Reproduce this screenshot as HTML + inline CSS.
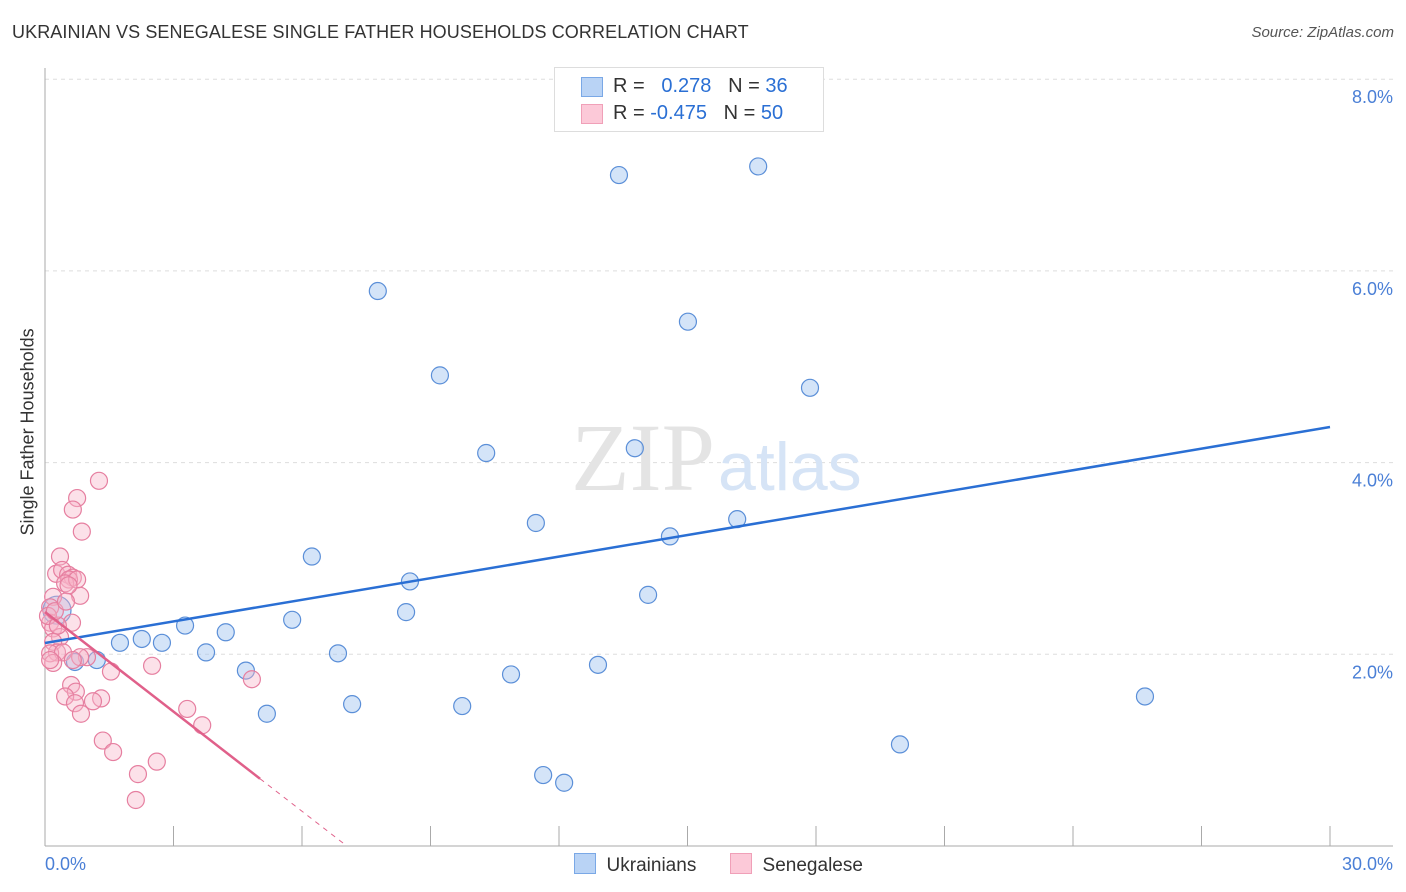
<!DOCTYPE html>
<html><head><meta charset="utf-8">
<style>
body{margin:0;background:#fff;font-family:"Liberation Sans",sans-serif;}
#wrap{position:relative;width:1406px;height:892px;overflow:hidden;}
.t{position:absolute;white-space:nowrap;}
</style></head>
<body>
<div id="wrap">
<div class="t" style="left:12px;top:22px;font-size:18px;color:#333;letter-spacing:0.1px">UKRAINIAN VS SENEGALESE SINGLE FATHER HOUSEHOLDS CORRELATION CHART</div>
<div class="t" style="right:12px;top:24px;font-size:15px;color:#555;font-style:italic">Source: ZipAtlas.com</div>
<div class="t" style="left:-52px;top:445px;font-size:18px;color:#333;transform:rotate(-90deg);width:160px;text-align:center">Single Father Households</div>
<svg id="plot" width="1406" height="892" style="position:absolute;left:0;top:0"></svg>
</div>
<script>
const ukrX=[0.28,0.70,1.21,1.75,2.26,2.73,3.27,3.76,4.22,4.69,5.18,5.77,6.23,6.84,7.17,7.77,8.43,8.52,9.22,9.74,10.30,10.88,11.46,11.63,12.12,12.91,13.40,13.77,14.08,14.59,15.01,16.16,16.65,17.86,19.96,25.68];
const ukrY=[2.46,1.92,1.94,2.12,2.16,2.12,2.30,2.02,2.23,1.83,1.38,2.36,3.02,2.01,1.48,5.79,2.44,2.76,4.91,1.46,4.10,1.79,3.37,0.74,0.66,1.89,7.00,4.15,2.62,3.23,5.47,3.41,7.09,4.78,1.06,1.56];
const senX=[1.26,0.75,0.65,0.86,0.35,0.26,0.40,0.54,0.65,0.56,0.47,0.75,0.82,0.19,0.12,0.63,0.12,0.19,0.35,0.19,0.28,0.12,0.42,0.19,0.98,0.82,1.54,2.50,4.83,0.61,0.72,0.47,0.70,1.31,1.12,0.84,3.32,3.67,1.35,1.59,2.61,2.17,2.12,0.07,0.30,0.55,0.23,0.49,0.12,0.65];
const senY=[3.81,3.63,3.51,3.28,3.02,2.84,2.88,2.83,2.80,2.78,2.74,2.78,2.61,2.60,2.49,2.33,2.33,2.27,2.18,2.13,2.02,2.01,2.02,1.91,1.97,1.97,1.82,1.88,1.74,1.68,1.61,1.56,1.49,1.54,1.51,1.38,1.43,1.26,1.10,0.98,0.88,0.75,0.48,2.40,2.30,2.72,2.45,2.55,1.94,1.94];
const ukrTrend=[2.118,4.371]; // y at x=0 and x=30
const senTrend=[2.441,0.03,5.02,6.96]; // y0, y at dashEnd, solidEnd x, dashEnd x
const yTicks=[2,4,6,8];
const yTickLabels=["2.0%","4.0%","6.0%","8.0%"];
const xTicks=[0,3,6,9,12,15,18,21,24,27,30];
const xLabels=["0.0%","30.0%"];

const NS="http://www.w3.org/2000/svg";
const svg=document.getElementById('plot');
const X0=45,X1=1330,Y0=846,PPY=95.85;
const sx=v=>X0+(X1-X0)*v/30;
const sy=v=>Y0-v*PPY;
function mk(tag,attrs,parent){const e=document.createElementNS(NS,tag);for(const k in attrs)e.setAttribute(k,attrs[k]);(parent||svg).appendChild(e);return e;}

yTicks.forEach((v,i)=>{
  const g=mk('line',{x1:X0,x2:1393,y1:sy(v),y2:sy(v),stroke:'#ddd','stroke-dasharray':'4,4'});
  
  
  const t=mk('text',{x:1393,y:sy(v)+24,'text-anchor':'end','font-size':18,fill:'#4a7fd6','font-family':'Liberation Sans, sans-serif'});
  t.textContent=yTickLabels[i];
  
  
});
const ya=mk('line',{x1:X0,x2:X0,y1:68,y2:Y0,stroke:'#aaa'});


const xa=mk('line',{x1:X0,x2:1393,y1:Y0,y2:Y0,stroke:'#aaa'});


xTicks.forEach(v=>{
  const l=mk('line',{x1:sx(v),x2:sx(v),y1:826,y2:Y0,stroke:'#aaa'});
  
  
});
[[xLabels[0],45,'start'],[xLabels[1],1393,'end']].forEach(a=>{
  const t=mk('text',{x:a[1],y:870,'text-anchor':a[2],'font-size':18,fill:'#4a7fd6','font-family':'Liberation Sans, sans-serif'});
  t.textContent=a[0];
  
  
});
// watermark
const w1=mk('text',{x:635,y:490,'text-anchor':'end','font-size':96,fill:'#e4e4e4','font-family':'Liberation Serif, serif'});
w1.textContent='ZIP';


w1.setAttribute('x',715);
const w2=mk('text',{x:718,y:490,'font-size':68,fill:'#d6e4f6','font-family':'Liberation Sans, sans-serif'});
w2.textContent='atlas';



ukrX.forEach((x,i)=>{
  const c=mk('circle',{cx:sx(x),cy:sy(ukrY[i]),r:i===0?14:8.5,fill:'rgba(160,196,240,0.45)',stroke:'#5b8fd8','stroke-width':1.2});
  
  
});
senX.forEach((x,i)=>{
  const c=mk('circle',{cx:sx(x),cy:sy(senY[i]),r:8.5,fill:'rgba(248,180,200,0.4)',stroke:'#e67fa0','stroke-width':1.2});
  
  
});
const bl=mk('line',{x1:sx(0),y1:sy(ukrTrend[0]),x2:sx(30),y2:sy(ukrTrend[1]),stroke:'#2a6fd4','stroke-width':2.5});


const slope=(senTrend[1]-senTrend[0])/senTrend[3];
const ps=mk('line',{x1:sx(0),y1:sy(senTrend[0]),x2:sx(senTrend[2]),y2:sy(senTrend[0]+slope*senTrend[2]),stroke:'#e0608a','stroke-width':2.5});


const pd=mk('line',{x1:sx(senTrend[2]),y1:sy(senTrend[0]+slope*senTrend[2]),x2:sx(senTrend[3]),y2:sy(senTrend[1]),stroke:'#e0608a','stroke-width':1,'stroke-dasharray':'5,5'});


</script>
<div style="position:absolute;left:554px;top:67px;width:268px;height:63px;border:1px solid #ddd;background:#fff;font-size:20px;">
  <div style="position:absolute;left:26px;top:9px;width:20px;height:18px;background:#b9d3f5;border:1px solid #7aa8e6"></div>
  <div class="t" style="left:58px;top:7px;color:#333">R = <span style="color:#2a6fd4">&nbsp;&nbsp;0.278</span>&nbsp;&nbsp;&nbsp;N = <span style="color:#2a6fd4">36</span></div>
  <div style="position:absolute;left:26px;top:36px;width:20px;height:18px;background:#fcc9d8;border:1px solid #f0a0b8"></div>
  <div class="t" style="left:58px;top:34px;color:#333">R = <span style="color:#2a6fd4">-0.475</span>&nbsp;&nbsp;&nbsp;N = <span style="color:#2a6fd4">50</span></div>
</div>
<div style="position:absolute;left:574px;top:853px;font-size:19px;color:#333;">
  <div style="position:absolute;left:0;top:0;white-space:nowrap"><span style="display:inline-block;width:20px;height:19px;background:#b9d3f5;border:1px solid #7aa8e6;vertical-align:-3px"></span>&nbsp; Ukrainians</div>
  <div style="position:absolute;left:156px;top:0;white-space:nowrap"><span style="display:inline-block;width:20px;height:19px;background:#fcc9d8;border:1px solid #f0a0b8;vertical-align:-3px"></span>&nbsp; Senegalese</div>
</div>
</body></html>
